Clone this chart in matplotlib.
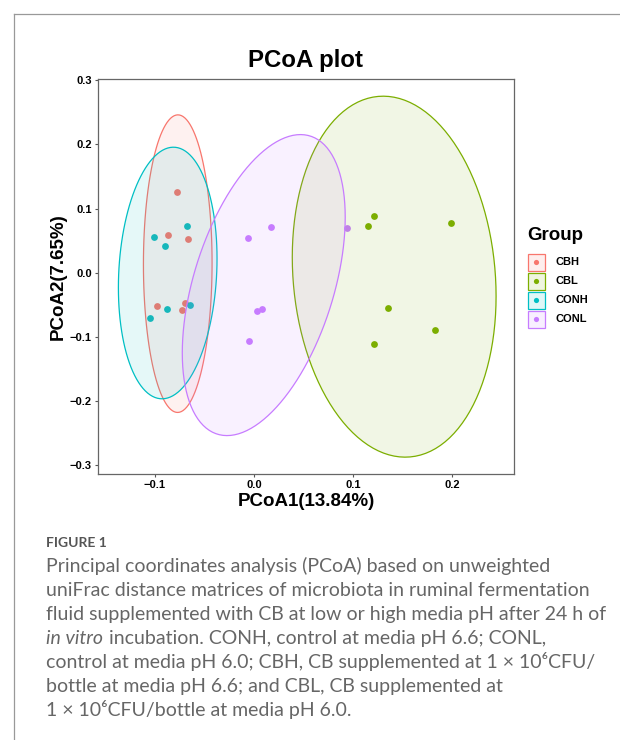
import numpy as np
import matplotlib.pyplot as plt
from matplotlib.colors import to_rgba
from matplotlib.patches import Rectangle, Polygon
from matplotlib.lines import Line2D

# groups and ggplot default hue colours
groups = ["CBH", "CBL", "CONH", "CONL"]
colors = ["#F8766D", "#7CAE00", "#00BFC4", "#C77CFF"]

# PCoA scores
cbh_x = [-0.077, -0.086, -0.066, -0.098, -0.069, -0.072]
cbh_y = [0.125, 0.058, 0.052, -0.052, -0.047, -0.059]
cbl_x = [0.121, 0.115, 0.199, 0.135, 0.182, 0.121]
cbl_y = [0.088, 0.072, 0.077, -0.055, -0.090, -0.112]
conh_x = [-0.101, -0.090, -0.067, -0.105, -0.088, -0.064]
conh_y = [0.056, 0.041, 0.072, -0.070, -0.056, -0.051]
conl_x = [-0.006, 0.017, 0.003, 0.008, -0.005, 0.094]
conl_y = [0.054, 0.071, -0.060, -0.057, -0.107, 0.069]

scores = {
    "CBH": (cbh_x, cbh_y),
    "CBL": (cbl_x, cbl_y),
    "CONH": (conh_x, conh_y),
    "CONL": (conl_x, conl_y),
}

x_ticks = [-0.1, 0.0, 0.1, 0.2]
y_ticks = [-0.3, -0.2, -0.1, 0.0, 0.1, 0.2, 0.3]

caption_lines = [
    "Principal coordinates analysis (PCoA) based on unweighted",
    "uniFrac distance matrices of microbiota in ruminal fermentation",
    "fluid supplemented with CB at low or high media pH after 24 h of",
    None,  # italic line handled below
    "control at media pH 6.0; CBH, CB supplemented at 1 \u00d7 10\u2076CFU/",
    "bottle at media pH 6.6; and CBL, CB supplemented at",
    "1 \u00d7 10\u2076CFU/bottle at media pH 6.0.",
]


def cov_trob(x, nu=5, maxit=25, tol=0.01):
    # same as MASS::cov.trob, which stat_ellipse(type = "t") uses
    n, p = x.shape
    wt = np.ones(n)
    loc = x.mean(axis=0)
    w = np.sqrt(wt)
    for _ in range(maxit):
        w0 = w
        X = x - loc
        _, d, vt = np.linalg.svd(np.sqrt(w / w.sum())[:, None] * X, full_matrices=False)
        wX = X @ vt.T @ np.diag(1 / d)
        Q = (wX ** 2).sum(axis=1)
        w = wt * (nu + p) / (nu + Q)
        loc = (w[:, None] * x).sum(axis=0) / w.sum()
        if np.all(np.abs(w - w0) < tol):
            break
    sX = np.sqrt(w)[:, None] * X
    return loc, sX.T @ sX / wt.sum()


def t_ellipse(xs, ys, level=0.95, segments=120):
    pts = np.column_stack([xs, ys])
    center, shape = cov_trob(pts)
    dfd = len(xs) - 1
    fq = dfd / 2 * ((1 - level) ** (-2 / dfd) - 1)  # qf(level, 2, dfd)
    radius = np.sqrt(2 * fq)
    ang = np.linspace(0, 2 * np.pi, segments, endpoint=False)
    circ = np.column_stack([np.cos(ang), np.sin(ang)])
    chol = np.linalg.cholesky(shape).T
    return center + radius * circ @ chol


plt.rcParams['font.family'] = ['Liberation Sans', 'DejaVu Sans']

fig = plt.figure(figsize=(6.2, 7.4), dpi=100)

# overlay in pixel coordinates for frame, legend and caption
over = fig.add_axes([0, 0, 1, 1])
over.set_xlim(0, 620)
over.set_ylim(740, 0)
over.axis('off')

ax = fig.add_axes([98 / 620, 1 - 474 / 740, 416 / 620, 395 / 740])

for g, c in zip(groups, colors):
    xs, ys = scores[g]
    ax.scatter(xs, ys, s=24, color=c, linewidths=0, zorder=2)
for g, c in zip(groups, colors):
    xs, ys = scores[g]
    e = t_ellipse(xs, ys)
    ax.add_patch(Polygon(e, closed=True, facecolor=to_rgba(c, 0.1), edgecolor=c,
                         lw=0.9, joinstyle='round', zorder=3))

ax.set_xlim(-0.157, 0.262)
ax.set_ylim(-0.314, 0.302)
ax.set_xticks(x_ticks)
ax.set_xticklabels([f"{v:.1f}".replace("-", "\u2212") for v in x_ticks])
ax.set_yticks(y_ticks)
ax.set_yticklabels([f"{v:.1f}".replace("-", "\u2212") for v in y_ticks])
ax.tick_params(length=2.5, width=0.8, color="#555555", pad=2, labelsize=8)
for lab in ax.get_xticklabels() + ax.get_yticklabels():
    lab.set_fontweight('bold')
for sp in ax.spines.values():
    sp.set_color("#666666")
    sp.set_linewidth(0.9)

ax.set_title("PCoA plot", fontsize=17.3, fontweight='bold', pad=9)
ax.set_xlabel("PCoA1(13.84%)", fontsize=13.5, fontweight='bold', labelpad=2)
ax.set_ylabel("PCoA2(7.65%)", fontsize=13.5, fontweight='bold', labelpad=2)

# legend
over.text(527, 235, "Group", fontsize=13.5, fontweight='bold', va='center', ha='left')
for i, (g, c) in enumerate(zip(groups, colors)):
    yc = 262 + i * 19
    over.add_patch(Rectangle((527.5, yc - 8.5), 17, 17, facecolor=to_rgba(c, 0.12),
                             edgecolor=c, lw=0.9))
    over.scatter([536], [yc], s=14, color=c, linewidths=0)
    over.text(555, yc, g, fontsize=8, fontweight='bold', va='center', ha='left')

# page frame
over.add_line(Line2D([13.5, 620], [14, 14], color="#999999", lw=0.9))
over.add_line(Line2D([13.5, 13.5], [14, 740], color="#999999", lw=0.9))

# caption
cap_font = ['Lato', 'DejaVu Sans']
cap_size = 14.0
over.text(46.5, 547, "FIGURE 1", fontsize=10, fontweight='bold', color="#555555",
          family=cap_font, va='baseline')
for i, line in enumerate(caption_lines):
    yb = 572 + i * 24
    if line is None:
        it = over.text(46.5, yb, "in vitro", fontsize=cap_size, style='italic', color="#666666",
                       family=cap_font, va='baseline')
        over.annotate(" incubation. CONH, control at media pH 6.6; CONL,",
                      xy=(1, 0), xycoords=it, va='bottom', ha='left',
                      fontsize=cap_size, color="#666666", family=cap_font)
    else:
        over.text(46.5, yb, line, fontsize=cap_size, color="#666666", family=cap_font,
                  va='baseline')

fig.savefig("out.png", dpi=100)
